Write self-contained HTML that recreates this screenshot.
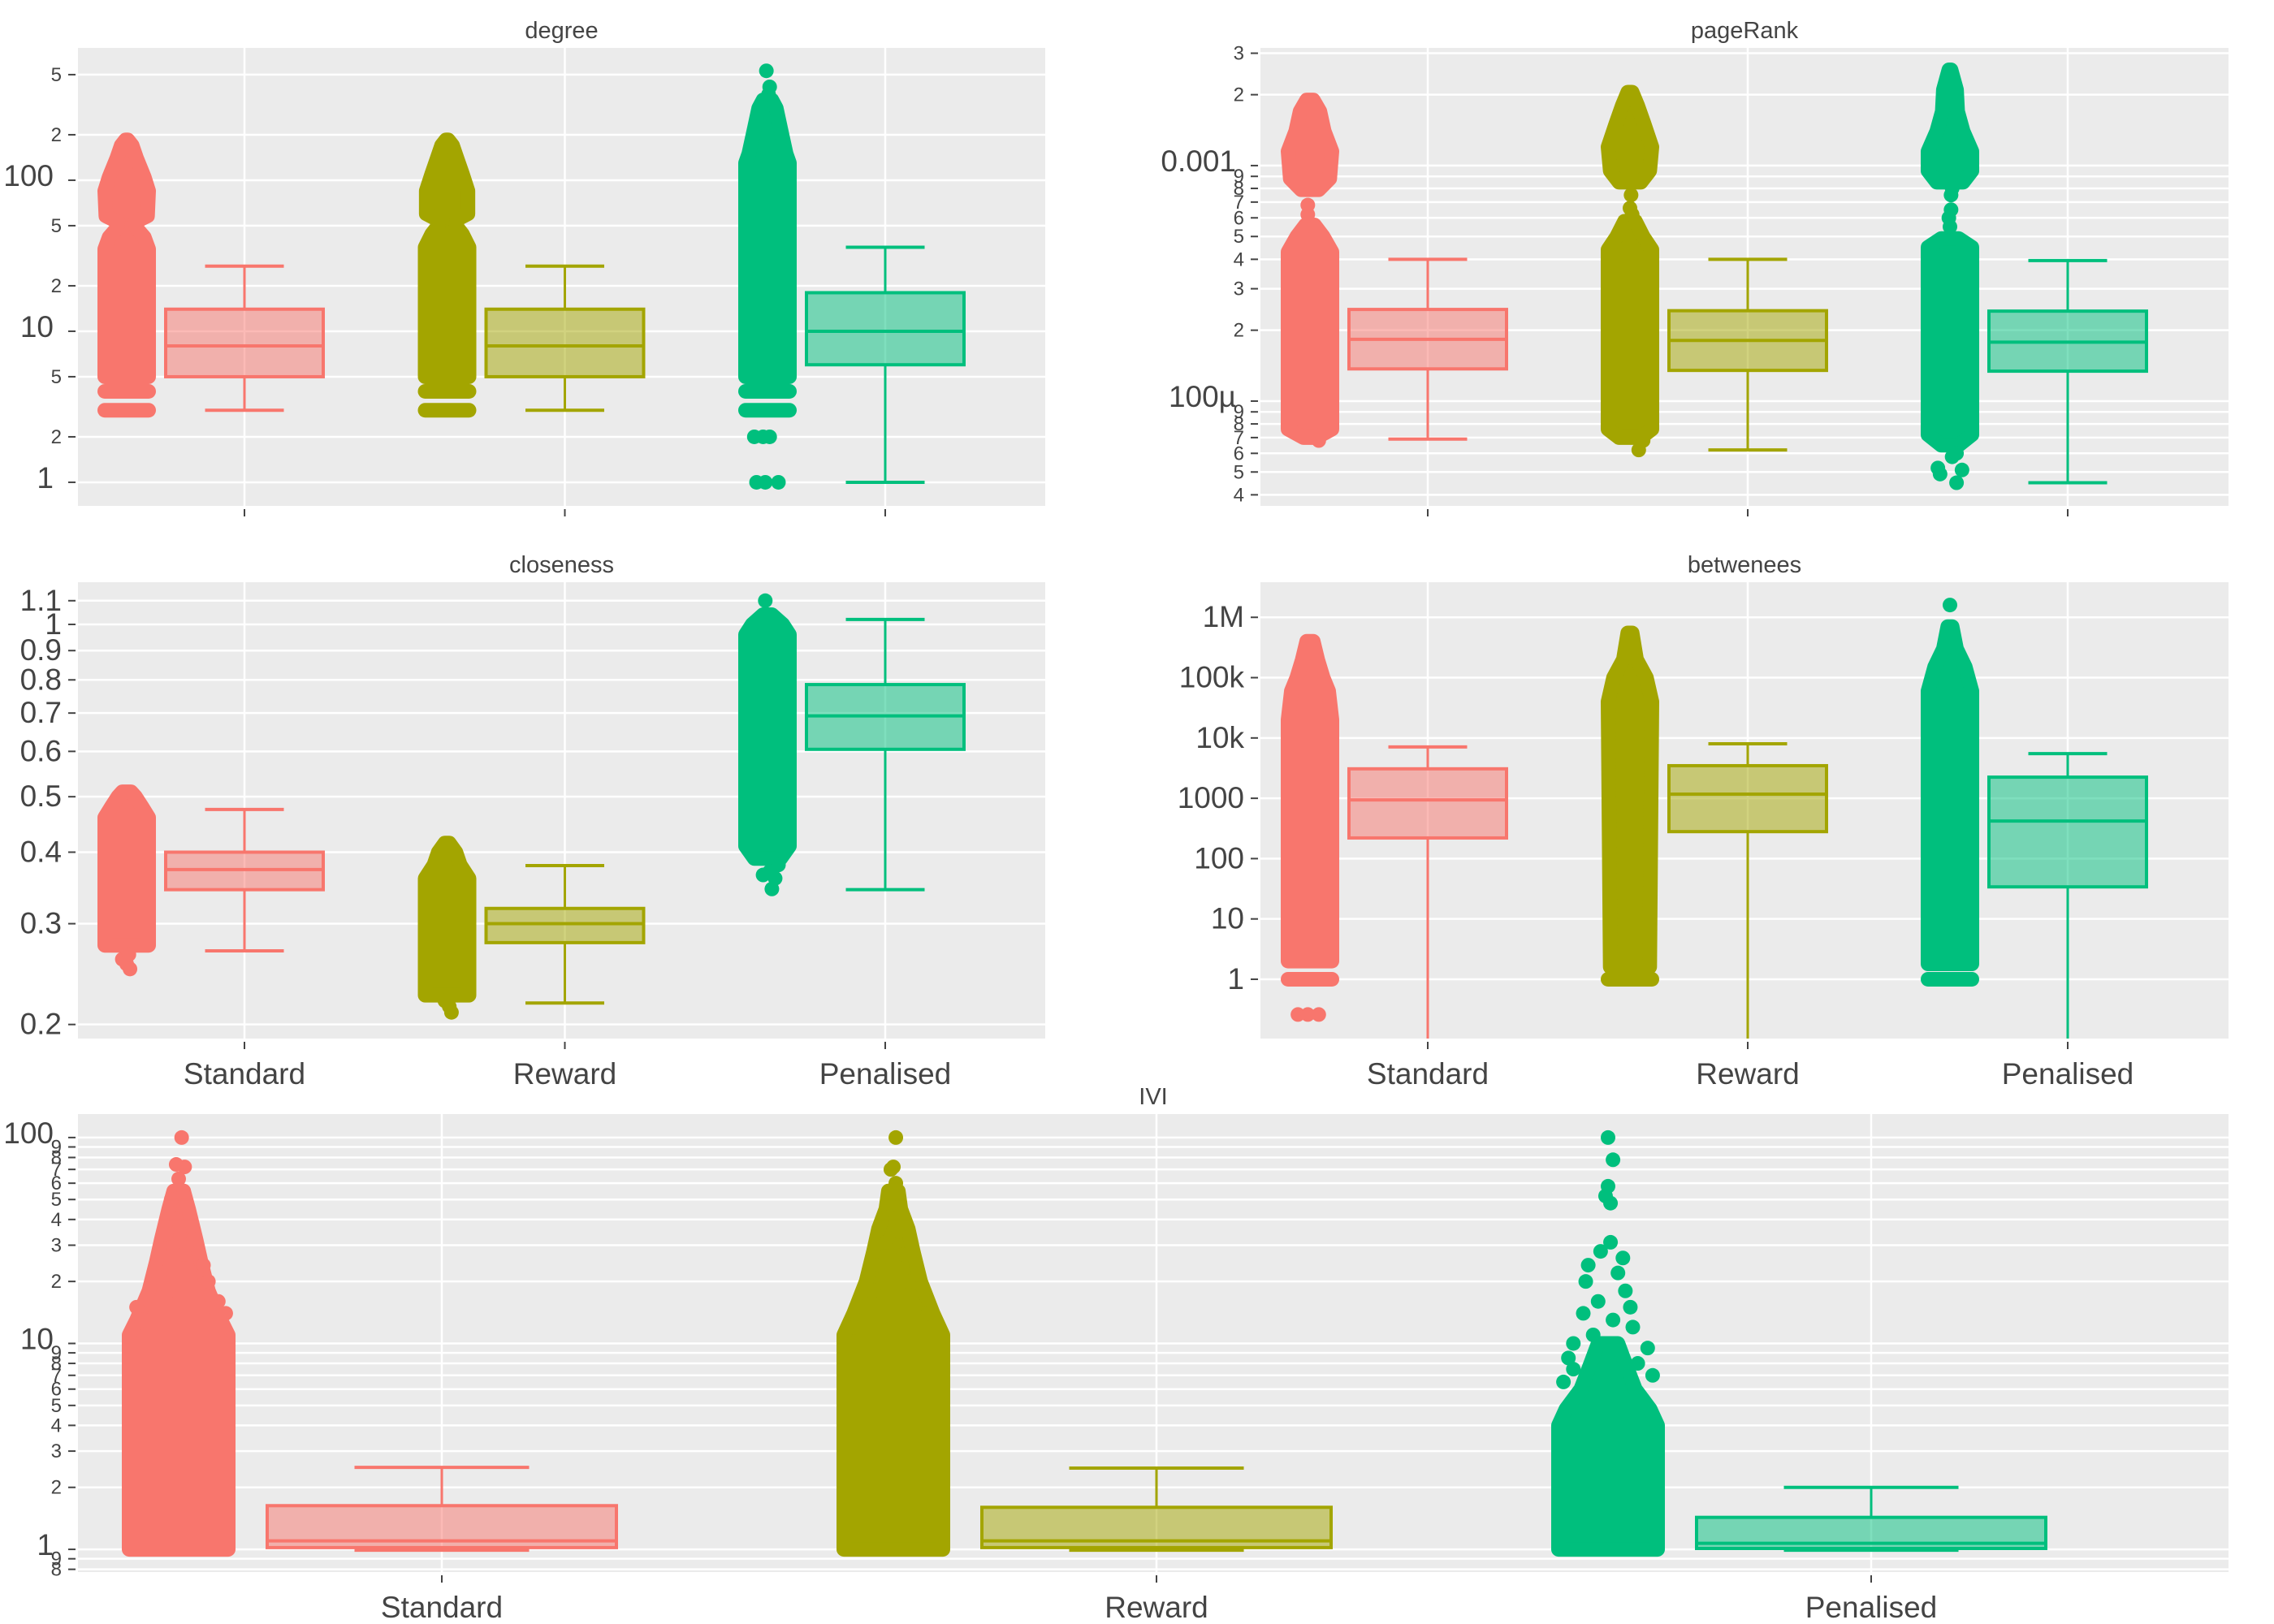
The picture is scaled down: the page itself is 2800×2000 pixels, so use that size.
<!DOCTYPE html>
<html><head><meta charset="utf-8"><style>
html,body{margin:0;padding:0;background:#fff;}
svg{display:block;font-family:"Liberation Sans",sans-serif;}
</style></head><body>
<svg id="chart" width="2800" height="2000" viewBox="0 0 2800 2000" xmlns="http://www.w3.org/2000/svg"></svg>
<script>
// ---------- data ----------
const categories = ["Standard","Reward","Penalised"];

const degreeLow=[3,3,1], degreeQ1=[5,5,6], degreeMed=[8,8,10], degreeQ3=[14,14,18], degreeHigh=[27,27,36];
const degreeTickVals=[1,2,5,10,20,50,100,200,500];
const degreeTickLabels=["1","2","5","10","2","5","100","2","5"];
const degreeBands=[[3,4],[3,4],[3,4]];
const degreeEnv=[
 [[[5,1],[35,1],[42,0.8],[48,0.45],[53,0.4],[58,0.95],[85,1],[105,0.8],[140,0.45],[170,0.25],[185,0.05]]],
 [[[5,1],[36,1],[44,0.7],[50,0.4],[55,0.45],[60,0.95],[85,0.95],[110,0.7],[140,0.45],[170,0.25],[185,0.05]]],
 [[[5,1],[130,1],[150,0.85],[220,0.6],[300,0.4],[340,0.2]]]
];
const degreeDots=[[],[],[[1,-0.5],[1,-0.1],[1,0.5],[2,-0.6],[2,-0.2],[2,0.1],[370,0.05],[415,0.1],[530,-0.05]]];

const prLow=[6.9e-5,6.2e-5,4.5e-5], prQ1=[1.37e-4,1.35e-4,1.34e-4], prMed=[1.83e-4,1.81e-4,1.78e-4], prQ3=[2.45e-4,2.42e-4,2.41e-4], prHigh=[4e-4,4e-4,3.95e-4];
const prTickVals=[4e-5,5e-5,6e-5,7e-5,8e-5,9e-5,1e-4,2e-4,3e-4,4e-4,5e-4,6e-4,7e-4,8e-4,9e-4,1e-3,2e-3,3e-3];
const prTickLabels=["4","5","6","7","8","9","100µ","2","3","4","5","6","7","8","9","0.001","2","3"];
const prBands=[[],[],[]];
const prEnv=[
 [[[7e-5,0.3],[7.6e-5,1],[4.3e-4,1],[5e-4,0.6],[5.6e-4,0.2]],[[7.9e-4,0.4],[8.8e-4,0.9],[1.15e-3,1],[1.4e-3,0.65],[1.7e-3,0.45],[1.9e-3,0.15]]],
 [[[7e-5,0.5],[7.6e-5,1],[4.4e-4,1],[5e-4,0.6],[5.8e-4,0.25]],[[8.5e-4,0.5],[9.5e-4,0.9],[1.2e-3,1],[1.5e-3,0.65],[1.8e-3,0.35],[2.05e-3,0.1]]],
 [[[6.5e-5,0.4],[7.2e-5,1],[4.5e-4,1],[4.9e-4,0.4]],[[8.5e-4,0.6],[9.5e-4,1],[1.15e-3,1],[1.4e-3,0.6],[1.7e-3,0.35],[2.1e-3,0.3],[2.55e-3,0.05]]]
];
const prDots=[[[6.2e-4,-0.1],[6.8e-4,-0.1],[6.8e-5,0.4]],[[6.2e-5,0.4],[6.6e-4,0],[6.2e-4,0.1],[7.5e-4,0.05],[6.8e-5,0.6]],[[5.2e-5,-0.55],[4.9e-5,-0.45],[5.1e-5,0.55],[4.5e-5,0.3],[5.8e-5,0.1],[6e-5,0.3],[5.5e-4,0],[6e-4,-0.05],[6.5e-4,0.05],[7.5e-4,0.05],[8e-4,0.1]]];

const clLow=[0.269,0.218,0.344], clQ1=[0.344,0.278,0.605], clMed=[0.373,0.300,0.692], clQ3=[0.40,0.319,0.785], clHigh=[0.475,0.379,1.02];
const clTickVals=[0.2,0.3,0.4,0.5,0.6,0.7,0.8,0.9,1,1.1];
const clTickLabels=["0.2","0.3","0.4","0.5","0.6","0.7","0.8","0.9","1","1.1"];
const clBands=[[],[],[]];
const clEnv=[
 [[[0.275,1],[0.46,1],[0.48,0.7],[0.5,0.4],[0.51,0.2]]],
 [[[0.225,1],[0.36,1],[0.38,0.6],[0.40,0.4],[0.415,0.1]]],
 [[[0.39,0.6],[0.41,1],[0.96,1],[1.0,0.7],[1.04,0.2]]]
];
const clDots=[[[0.25,0.15],[0.255,0],[0.26,-0.2],[0.265,0.1]],[[0.21,0.2],[0.215,0.1],[0.22,-0.1]],[[0.345,0.2],[0.36,0.35],[0.365,-0.2],[0.38,0.5],[0.37,0.1],[1.1,-0.1]]];

const btLow=[0.01,0.01,0.01], btQ1=[220,280,34], btMed=[940,1170,420], btQ3=[3080,3470,2240], btHigh=[7100,8000,5500];
const btTickVals=[1,10,100,1000,1e4,1e5,1e6];
const btTickLabels=["1","10","100","1000","10k","100k","1M"];
const btBands=[[1],[1],[1]];
const btEnv=[
 [[[2,1],[20000,1],[60000,0.85],[100000,0.6],[200000,0.35],[400000,0.15]]],
 [[[1.6,0.9],[40000,1],[100000,0.75],[200000,0.3],[550000,0.1]]],
 [[[1.8,1],[60000,1],[150000,0.7],[300000,0.3],[700000,0.1]]]
];
const btDots=[[[0.26,-0.55],[0.26,-0.1],[0.26,0.4]],[],[[1.6e6,0]]];

const ivLow=[0.99,0.99,0.99], ivQ1=[1.02,1.02,1.01], ivMed=[1.10,1.10,1.07], ivQ3=[1.63,1.60,1.43], ivHigh=[2.5,2.48,2.0];
const ivTickVals=[0.8,0.9,1,2,3,4,5,6,7,8,9,10,20,30,40,50,60,70,80,90,100];
const ivTickLabels=["8","9","1","2","3","4","5","6","7","8","9","10","2","3","4","5","6","7","8","9","100"];
const ivBands=[[],[],[]];
const ivEnv=[
 [[[1,1],[11,1],[13,0.85],[18,0.6],[25,0.45],[32,0.35],[45,0.2],[55,0.1]]],
 [[[1,1],[11,1],[14,0.8],[20,0.55],[28,0.4],[36,0.3],[45,0.15],[55,0.1]]],
 [[[1,1],[4,1],[4.8,0.85],[6,0.55],[8,0.35],[10,0.2]]]
];
const ivDots=[
 [[100,0.06],[74,-0.05],[72,0.12],[63,0],[55,0.1],[50,-0.15],[40,-0.05],[34,-0.25],[32,0.3],[27,0.1],[24,0.5],[21,-0.4],[20,0.6],[18,-0.2],[16,0.8],[15,-0.85],[14,0.95],[13,-0.75],[12,0.9]],
 [[100,0.05],[72,0],[70,-0.05],[60,0.05],[52,0.1],[48,-0.1],[40,0.05],[35,0.1],[31,-0.15],[27,0.2],[24,-0.3],[20,0.3],[18,-0.4],[15,-0.6],[14,0.7],[12,-0.8],[11.5,0.9]],
 [[100,0],[78,0.1],[58,0],[52,-0.05],[48,0.05],[31,0.05],[28,-0.15],[26,0.3],[24,-0.4],[22,0.2],[20,-0.45],[18,0.35],[16,-0.2],[15,0.45],[14,-0.5],[13,0.1],[12,0.5],[11,-0.3],[10,-0.7],[9.5,0.8],[8.5,-0.8],[8,0.6],[7.5,-0.7],[7,0.9],[6.5,-0.9]]
];

// ---------- drawing ----------
const NS="http://www.w3.org/2000/svg";
const svg=document.getElementById('chart');
const COLORS=["#F8766D","#A3A500","#00BF7D"];
function mk(tag,attrs,parent){const e=document.createElementNS(NS,tag);for(const k in attrs)e.setAttribute(k,attrs[k]);(parent||svg).appendChild(e);return e;}

function drawPanel(p){
  const g=mk('g',{});
  
  
  const lmin=Math.log10(p.min), lmax=Math.log10(p.max);
  const y=v=>p.y1-(Math.log10(v)-lmin)/(lmax-lmin)*(p.y1-p.y0);
  const cx=i=>p.c0+p.step*i;
  const bg=mk('rect',{x:p.x0,y:p.y0,width:p.x1-p.x0,height:p.y1-p.y0,fill:'#EBEBEB'},g);
  
  
  const cid='clip-'+p.name;
  const cp=mk('clipPath',{id:cid},g);
  mk('rect',{x:p.x0,y:p.y0,width:p.x1-p.x0,height:p.y1-p.y0},cp);
  p.tickVals.forEach((v,i)=>{
    const yy=y(v);
    const gl=mk('line',{x1:p.x0,x2:p.x1,y1:yy,y2:yy,stroke:'#fff','stroke-width':2.5},g);
    
    
    mk('line',{x1:p.x0-12,x2:p.x0-3,y1:yy,y2:yy,stroke:'#444','stroke-width':2},g);
    const lg=Math.log10(v), major=p.allMajor||Math.abs(lg-Math.round(lg))<1e-9;
    const t=mk('text',{x:p.x0-(major&&!p.allMajor?30:20),y:yy+(major?(p.allMajor?12:7):8),'text-anchor':'end','font-size':major?37:24,fill:'#444'},g);
    t.textContent=p.tickLabels[i];
    
    
  });
  categories.forEach((c,i)=>{
    const x=cx(i);
    const vl=mk('line',{x1:x,x2:x,y1:p.y0,y2:p.y1,stroke:'#fff','stroke-width':2.5},g);
    
    
    mk('line',{x1:x,x2:x,y1:p.y1+4,y2:p.y1+13,stroke:'#444','stroke-width':2},g);
    if(p.xLabels){
      const t=mk('text',{x:x,y:p.y1+56,'text-anchor':'middle','font-size':37,fill:'#444'},g);
      t.textContent=c;
      
      
    }
  });
  const plot=mk('g',{'clip-path':'url(#'+cid+')'},g);
  categories.forEach((c,i)=>{
    const col=COLORS[i], sc=cx(i)-p.stripOff, hw=p.stripHw;
    const sg=mk('g',{fill:col,stroke:col},plot);
    
    
    p.env[i].forEach(env=>{
      const left=env.map(([v,w])=>(sc-w*hw)+','+y(v));
      const right=env.slice().reverse().map(([v,w])=>(sc+w*hw)+','+y(v));
      const pg=mk('polygon',{points:left.concat(right).join(' '),'stroke-width':18,'stroke-linejoin':'round'},sg);
      
      
    });
    p.bands[i].forEach(v=>{
      const b=mk('line',{x1:sc-hw,x2:sc+hw,y1:y(v),y2:y(v),'stroke-width':18,'stroke-linecap':'round'},sg);
      
      
    });
    p.dots[i].forEach(([v,j])=>{
      const d=mk('circle',{cx:sc+j*hw,cy:y(v),r:9,stroke:'none'},sg);
      
      
    });
    const bx=cx(i), bh=p.boxHw, ch=p.boxHw/2;
    const bgp=mk('g',{stroke:col,fill:'none'},plot);
    
    
    mk('line',{x1:bx,x2:bx,y1:y(p.q3[i]),y2:y(p.high[i]),'stroke-width':3},bgp);
    mk('line',{x1:bx,x2:bx,y1:y(p.q1[i]),y2:y(p.low[i]),'stroke-width':3},bgp);
    mk('line',{x1:bx-ch,x2:bx+ch,y1:y(p.high[i]),y2:y(p.high[i]),'stroke-width':4},bgp);
    mk('line',{x1:bx-ch,x2:bx+ch,y1:y(p.low[i]),y2:y(p.low[i]),'stroke-width':4},bgp);
    const r=mk('rect',{x:bx-bh,y:y(p.q3[i]),width:2*bh,height:y(p.q1[i])-y(p.q3[i]),fill:col,'fill-opacity':0.5,'stroke-width':4},bgp);
    
    
    const m=mk('line',{x1:bx-bh,x2:bx+bh,y1:y(p.med[i]),y2:y(p.med[i]),'stroke-width':4},bgp);
    
    
  });
  const tt=mk('text',{x:(p.x0+p.x1)/2,y:p.y0-12,'text-anchor':'middle','font-size':29,fill:'#444'},g);
  tt.textContent=p.title;
  
  
}

const L={x0:96,x1:1287,c0:301,step:394.5}, R={x0:1552,x1:2744,c0:1758,step:394};
drawPanel({name:'degree',title:'degree',x0:L.x0,x1:L.x1,c0:L.c0,step:L.step,y0:59,y1:623,min:0.698,max:751.6,tickVals:degreeTickVals,tickLabels:degreeTickLabels,low:degreeLow,q1:degreeQ1,med:degreeMed,q3:degreeQ3,high:degreeHigh,env:degreeEnv,bands:degreeBands,dots:degreeDots,stripOff:145,stripHw:27,boxHw:97,xLabels:false});
drawPanel({name:'pagerank',title:'pageRank',x0:R.x0,x1:R.x1,c0:R.c0,step:R.step,y0:59,y1:623,min:3.59e-5,max:3.16e-3,tickVals:prTickVals,tickLabels:prTickLabels,low:prLow,q1:prQ1,med:prMed,q3:prQ3,high:prHigh,env:prEnv,bands:prBands,dots:prDots,stripOff:145,stripHw:27,boxHw:97,xLabels:false});
drawPanel({name:'closeness',title:'closeness',x0:L.x0,x1:L.x1,c0:L.c0,step:L.step,y0:717,y1:1279,min:0.189,max:1.185,tickVals:clTickVals,tickLabels:clTickLabels,low:clLow,q1:clQ1,med:clMed,q3:clQ3,high:clHigh,env:clEnv,bands:clBands,dots:clDots,stripOff:145,stripHw:27,boxHw:97,xLabels:true,allMajor:true});
drawPanel({name:'betweenness',title:'betwenees',x0:R.x0,x1:R.x1,c0:R.c0,step:R.step,y0:717,y1:1279,min:0.104,max:3.82e6,tickVals:btTickVals,tickLabels:btTickLabels,low:btLow,q1:btQ1,med:btMed,q3:btQ3,high:btHigh,env:btEnv,bands:btBands,dots:btDots,stripOff:145,stripHw:27,boxHw:97,xLabels:true,allMajor:true});
drawPanel({name:'ivi',title:'IVI',x0:96,x1:2744,c0:544,step:880,y0:1372,y1:1936,min:0.776,max:130,tickVals:ivTickVals,tickLabels:ivTickLabels,low:ivLow,q1:ivQ1,med:ivMed,q3:ivQ3,high:ivHigh,env:ivEnv,bands:ivBands,dots:ivDots,stripOff:324,stripHw:61,boxHw:215,xLabels:true});
</script>
</body></html>
